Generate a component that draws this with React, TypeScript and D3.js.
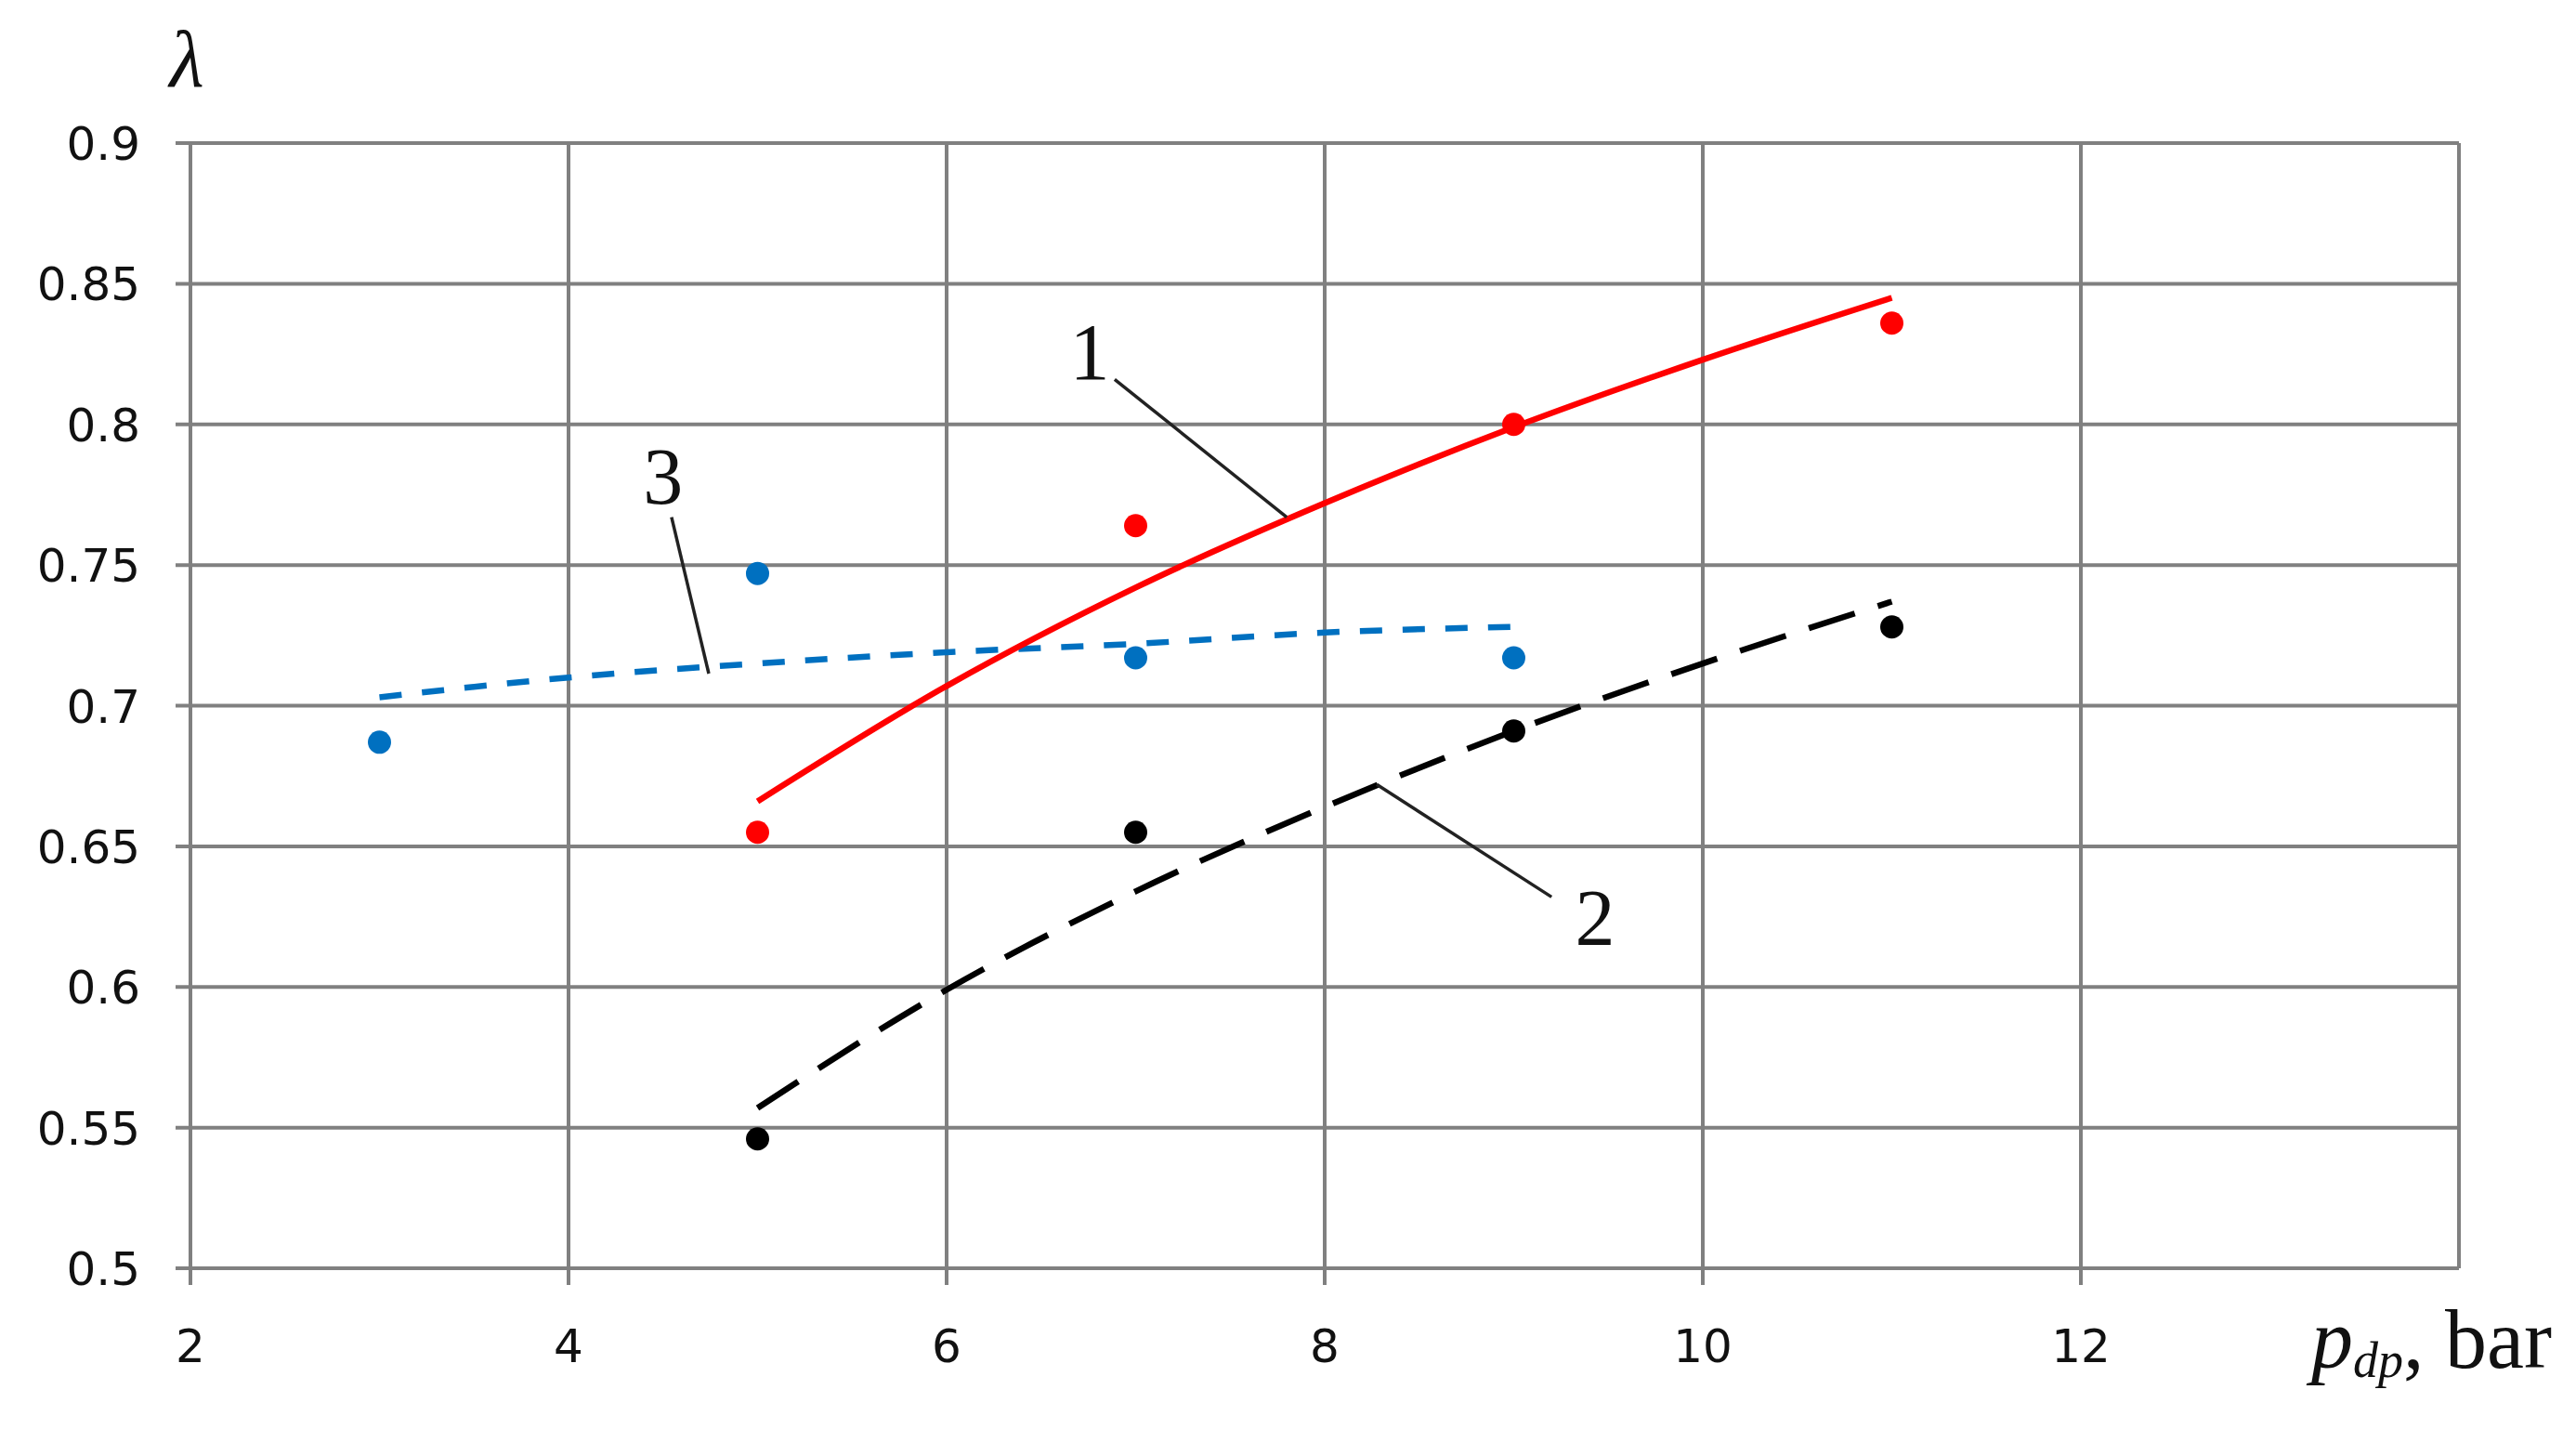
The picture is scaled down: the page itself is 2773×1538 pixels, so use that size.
import React from "react";
import * as d3 from "d3";

const W = 2773;
const H = 1538;

const xTicks = [2, 4, 6, 8, 10, 12, 14];
const yTicks = [0.5, 0.55, 0.6, 0.65, 0.7, 0.75, 0.8, 0.85, 0.9];
const yTickLabels = ["0.5", "0.55", "0.6", "0.65", "0.7", "0.75", "0.8", "0.85", "0.9"];
const xTickLabels = ["2", "4", "6", "8", "10", "12", ""];

// measured points
const pts1 = [
  { x: 5, y: 0.655 },
  { x: 7, y: 0.764 },
  { x: 9, y: 0.8 },
  { x: 11, y: 0.836 },
];
const pts2 = [
  { x: 5, y: 0.546 },
  { x: 7, y: 0.655 },
  { x: 9, y: 0.691 },
  { x: 11, y: 0.728 },
];
const pts3 = [
  { x: 3, y: 0.687 },
  { x: 5, y: 0.747 },
  { x: 7, y: 0.717 },
  { x: 9, y: 0.717 },
];

// fitted curves
const curve1 = [
  { x: 5, y: 0.666 },
  { x: 6, y: 0.707 },
  { x: 7, y: 0.742 },
  { x: 8, y: 0.772 },
  { x: 9, y: 0.799 },
  { x: 10, y: 0.823 },
  { x: 11, y: 0.845 },
];
const curve2 = [
  { x: 5, y: 0.557 },
  { x: 6, y: 0.599 },
  { x: 7, y: 0.634 },
  { x: 8, y: 0.664 },
  { x: 9, y: 0.691 },
  { x: 10, y: 0.715 },
  { x: 11, y: 0.737 },
];
const curve3 = [
  { x: 3, y: 0.703 },
  { x: 4, y: 0.71 },
  { x: 5, y: 0.715 },
  { x: 6, y: 0.719 },
  { x: 7, y: 0.722 },
  { x: 8, y: 0.726 },
  { x: 9, y: 0.728 },
];

// callout labels (data coords): label position, leader line start & end
const callouts = [
  { text: "1", lx: 6.757, ly: 0.816, x1: 6.889, y1: 0.816, x2: 7.799, y2: 0.767 },
  { text: "2", lx: 9.43, ly: 0.615, x1: 9.2, y1: 0.632, x2: 8.275, y2: 0.672 },
  { text: "3", lx: 4.5, ly: 0.772, x1: 4.545, y1: 0.767, x2: 4.742, y2: 0.7114 },
];

const RED = "#ff0000";
const BLUE = "#0070c0";
const BLACK = "#000000";
const GRID = "#808080";

export default function App() {
  const left = 205;
  const right = 2647;
  const top = 154;
  const bottom = 1365;

  const x = d3.scaleLinear().domain([2, 14]).range([left, right]);
  const y = d3.scaleLinear().domain([0.5, 0.9]).range([bottom, top]);

  const line = d3
    .line<{ x: number; y: number }>()
    .x((d) => x(d.x))
    .y((d) => y(d.y))
    .curve(d3.curveMonotoneX);

  const tickFont = "'DejaVu Sans', Verdana, sans-serif";
  const serif = "'Liberation Serif', 'Times New Roman', serif";

  return (
    <svg
      width={W}
      height={H}
      viewBox={`0 0 ${W} ${H}`}
      style={{ position: "absolute", left: 0, top: 0, background: "#fff" }}
    >
      <rect x={0} y={0} width={W} height={H} fill="#fff" />
      {/* horizontal grid */}
      {yTicks.map((t) => (
        <line
          key={"h" + t}
          x1={x(2) - 16}
          x2={x(14)}
          y1={y(t)}
          y2={y(t)}
          stroke={GRID}
          strokeWidth={4}
        />
      ))}
      {/* vertical grid */}
      {xTicks.map((t) => (
        <line
          key={"v" + t}
          x1={x(t)}
          x2={x(t)}
          y1={y(0.9)}
          y2={t === 14 ? y(0.5) : y(0.5) + 18}
          stroke={GRID}
          strokeWidth={4}
        />
      ))}
      {/* y tick labels */}
      {yTicks.map((t, i) => (
        <text
          key={"yl" + t}
          x={151}
          y={y(t)}
          dy="0.36em"
          textAnchor="end"
          fontFamily={tickFont}
          fontSize={50}
          fill="#111"
        >
          {yTickLabels[i]}
        </text>
      ))}
      {/* x tick labels */}
      {xTicks.map((t, i) => (
        <text
          key={"xl" + t}
          x={x(t)}
          y={1466}
          textAnchor="middle"
          fontFamily={tickFont}
          fontSize={50}
          fill="#111"
        >
          {xTickLabels[i]}
        </text>
      ))}

      {/* trend lines */}
      <path d={line(curve3) || ""} fill="none" stroke={BLUE} strokeWidth={6.5} strokeDasharray="24 22" />
      <path d={line(curve2) || ""} fill="none" stroke={BLACK} strokeWidth={6.5} strokeDasharray="52 26" />
      <path d={line(curve1) || ""} fill="none" stroke={RED} strokeWidth={6.5} />

      {/* points */}
      {pts3.map((d, i) => (
        <circle key={"b" + i} cx={x(d.x)} cy={y(d.y)} r={12.5} fill={BLUE} />
      ))}
      {pts2.map((d, i) => (
        <circle key={"k" + i} cx={x(d.x)} cy={y(d.y)} r={12.5} fill={BLACK} />
      ))}
      {pts1.map((d, i) => (
        <circle key={"r" + i} cx={x(d.x)} cy={y(d.y)} r={12.5} fill={RED} />
      ))}

      {/* callouts */}
      {callouts.map((c) => (
        <g key={"c" + c.text}>
          <line
            x1={x(c.x1)}
            y1={y(c.y1)}
            x2={x(c.x2)}
            y2={y(c.y2)}
            stroke="#222"
            strokeWidth={3.5}
          />
          <text
            x={x(c.lx)}
            y={y(c.ly)}
            textAnchor="middle"
            fontFamily={serif}
            fontSize={86}
            fill="#111"
          >
            {c.text}
          </text>
        </g>
      ))}

      {/* axis titles */}
      <text x={201} y={93} textAnchor="middle" fontFamily={serif} fontStyle="italic" fontSize={86} fill="#111">
        λ
      </text>
      <text x={2488} y={1472} fontFamily={serif} fontSize={90} fill="#111">
        <tspan fontStyle="italic">p</tspan>
        <tspan fontStyle="italic" fontSize={54} dy={10}>dp</tspan>
        <tspan dy={-10}>, bar</tspan>
      </text>
    </svg>
  );
}
